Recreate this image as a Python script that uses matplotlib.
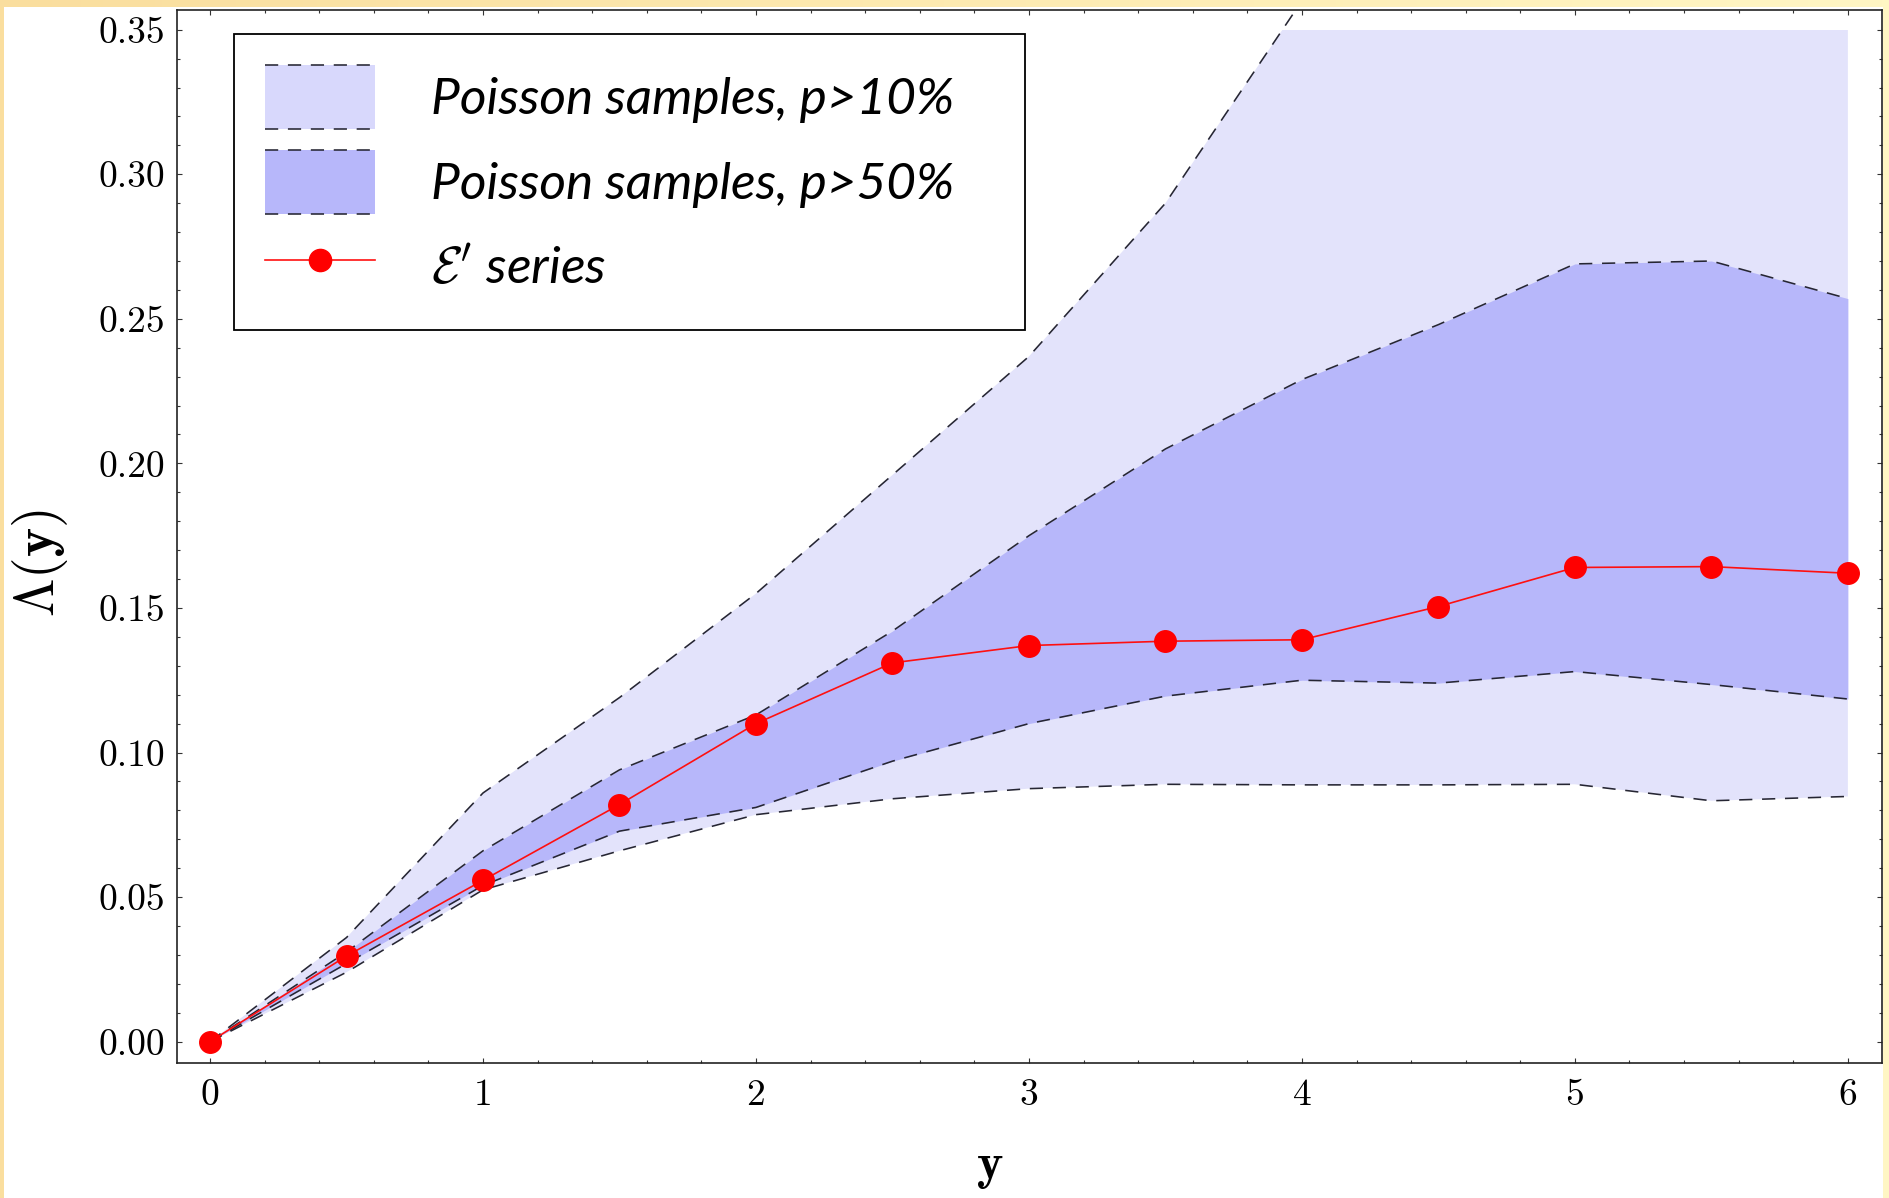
import numpy as np
import matplotlib
matplotlib.use('Agg')
import matplotlib.pyplot as plt
from matplotlib.patches import Rectangle, Patch
from matplotlib.lines import Line2D
from matplotlib.legend_handler import HandlerBase
from matplotlib.ticker import MultipleLocator, FormatStrFormatter

plt.rcParams['font.family'] = 'cmr10'
plt.rcParams['mathtext.fontset'] = 'cm'
plt.rcParams['axes.formatter.use_mathtext'] = True
plt.rcParams['lines.scale_dashes'] = False

# data
y_pts = [0, 0.5, 1, 1.5, 2, 2.5, 3, 3.5, 4, 4.5, 5, 5.5, 6]
series_e = [0, 0.0296, 0.0558, 0.0820, 0.110, 0.131, 0.137, 0.1385, 0.139, 0.1505, 0.164, 0.1643, 0.162]
p10_hi = [0, 0.036, 0.086, 0.119, 0.155, 0.196, 0.237, 0.290, 0.360, 0.42, 0.48, 0.53, 0.57]
p10_lo = [0, 0.024, 0.0525, 0.066, 0.0785, 0.084, 0.0875, 0.089, 0.0888, 0.0888, 0.089, 0.0833, 0.0848]
p50_hi = [0, 0.031, 0.066, 0.094, 0.113, 0.142, 0.175, 0.205, 0.229, 0.248, 0.269, 0.270, 0.257]
p50_lo = [0, 0.027, 0.054, 0.0728, 0.081, 0.097, 0.110, 0.1195, 0.125, 0.124, 0.128, 0.1235, 0.1185]
plot_top = 0.35

light = '#E3E3FB'
light_leg = '#D8D8FC'
dark = '#B7B7FA'
dash_col = '#262633'
dash_pat = (9.5, 7)

W, H = 1889, 1198
fig = plt.figure(figsize=(W / 100, H / 100), dpi=100)

# yellowish slide border
bg = fig.add_axes([0, 0, 1, 1], zorder=-5)
grad = np.linspace(0, 1, 256)[None, :, None]
c0 = np.array([250, 222, 158]) / 255
c1 = np.array([255, 246, 196]) / 255
bg.imshow(c0 + (c1 - c0) * grad, aspect='auto', extent=[0, 1, 0, 1])
bg.add_patch(Rectangle((4 / W, 0), (1883 - 4) / W, 1 - 7 / H, facecolor='white', edgecolor='none'))
bg.set_xlim(0, 1)
bg.set_ylim(0, 1)
bg.axis('off')

ax = fig.add_axes([177 / W, 1 - 1063 / H, (1882 - 177) / W, (1063 - 9.5) / H])

clip = Rectangle((-1, -1), 10, 1 + plot_top, transform=ax.transData)
f1 = ax.fill_between(y_pts, p10_lo, p10_hi, color=light, lw=0, zorder=1)
f1.set_clip_path(clip)
ax.fill_between(y_pts, p50_lo, p50_hi, color=dark, lw=0, zorder=2)
for band in (p10_hi, p10_lo, p50_hi, p50_lo):
    ax.plot(y_pts, band, color=dash_col, lw=1.15, dashes=dash_pat, zorder=3)
ax.plot(y_pts, series_e, color='#FF1010', lw=1.2, marker='o', ms=15.5,
        mfc='red', mec='red', zorder=4)

ax.set_xlim(-0.121, 6.125)
ax.set_ylim(-0.0074, 0.357)

ax.xaxis.set_major_locator(MultipleLocator(1))
ax.xaxis.set_minor_locator(MultipleLocator(0.2))
ax.yaxis.set_major_locator(MultipleLocator(0.05))
ax.yaxis.set_minor_locator(MultipleLocator(0.01))
ax.yaxis.set_major_formatter(FormatStrFormatter('%.2f'))
ax.xaxis.set_major_formatter(FormatStrFormatter('%d'))
ax.tick_params(which='both', direction='in', top=True, right=True, color='#333333', width=0.8)
ax.tick_params(which='major', length=3.8)
ax.tick_params(which='minor', length=2.3)
ax.tick_params(axis='x', which='major', labelsize=27, pad=11)
ax.tick_params(axis='y', which='major', labelsize=27, pad=8.5)
for sp in ax.spines.values():
    sp.set_linewidth(1.2)
    sp.set_color('#222222')


class BandHandler(HandlerBase):
    def create_artists(self, legend, orig_handle, xdescent, ydescent, width, height, fontsize, trans):
        x0, y0 = -xdescent, -ydescent
        rect = Rectangle((x0, y0), width, height, facecolor=orig_handle.get_facecolor(),
                         edgecolor='none', transform=trans)
        top = Line2D([x0, x0 + width], [y0 + height] * 2, color=dash_col, lw=1.15,
                     dashes=dash_pat, transform=trans)
        bot = Line2D([x0, x0 + width], [y0] * 2, color=dash_col, lw=1.15,
                     dashes=dash_pat, transform=trans)
        return [rect, top, bot]


h1 = Patch(facecolor=light_leg)
h2 = Patch(facecolor=dark)
h3 = Line2D([], [], color='#FF1010', lw=1.2, marker='o', ms=16, mfc='red', mec='red')
leg = ax.legend([h1, h2, h3],
                ['Poisson samples, p>10%', 'Poisson samples, p>50%', r"$\mathcal{E}'$ series"],
                handler_map={Patch: BandHandler()},
                loc='upper left', bbox_to_anchor=(0.0334, 0.5, 0.464, 0.4765), mode='expand',
                borderaxespad=0, prop=dict(family='Lato', style='italic', size=37),
                handlelength=2.14, handleheight=1.54, labelspacing=0.41, handletextpad=1.09,
                borderpad=0.6, numpoints=1, fancybox=False, framealpha=1, edgecolor='black')
leg.get_frame().set_linewidth(1.3)

fig.text(40 / W, 1 - 563 / H, r'$\Lambda\mathbf{(y)}$', rotation=90, ha='center', va='center', fontsize=40)
fig.text(990 / W, 19 / H, r'$\mathbf{y}$', ha='center', va='baseline', fontsize=36)

fig.savefig('out.png', dpi=100)
